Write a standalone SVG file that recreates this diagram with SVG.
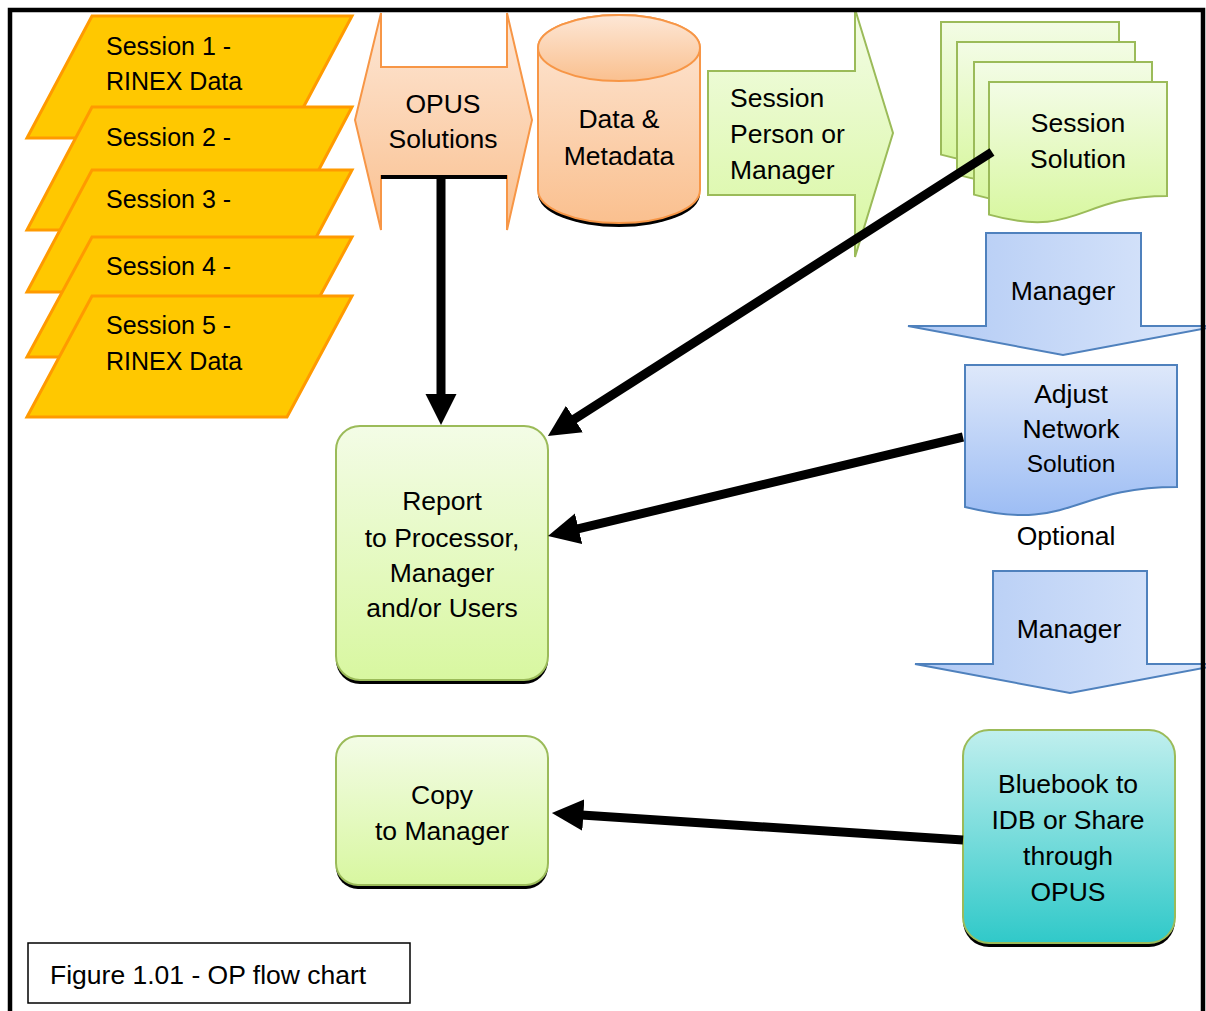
<svg xmlns="http://www.w3.org/2000/svg" width="1206" height="1011" viewBox="0 0 1206 1011">
<defs>
<linearGradient id="gOr" x1="0" y1="0" x2="0" y2="1"><stop offset="0" stop-color="#FDE7D6"/><stop offset="1" stop-color="#FAC08F"/></linearGradient>
<linearGradient id="gGr" x1="0" y1="0" x2="0" y2="1"><stop offset="0" stop-color="#F3FCE6"/><stop offset="1" stop-color="#D8F7A0"/></linearGradient>
<linearGradient id="gBlH" x1="0" y1="0" x2="1" y2="0"><stop offset="0" stop-color="#B0C9F4"/><stop offset="1" stop-color="#DDE8FB"/></linearGradient>
<linearGradient id="gBlV" x1="0" y1="0" x2="0" y2="1"><stop offset="0" stop-color="#DEE8FA"/><stop offset="1" stop-color="#9DBDF4"/></linearGradient>
<linearGradient id="gTe" x1="0" y1="0" x2="0" y2="1"><stop offset="0" stop-color="#C0EFEE"/><stop offset="1" stop-color="#30C9C9"/></linearGradient>
<marker id="ah" viewBox="0 0 10 10" markerUnits="strokeWidth" markerWidth="3.5" markerHeight="3.6" refX="3" refY="5" orient="auto"><path d="M0,0 L10,5 L0,10 Z" fill="#000"/></marker>
</defs>
<style>
text{font-family:"Liberation Sans",Arial,sans-serif;font-size:26.5px;fill:#000}
.s{font-size:25px}
.c{text-anchor:middle}
.par{fill:#FFC800;stroke:#FF9A00;stroke-width:3;stroke-linejoin:miter}
.or{fill:url(#gOr);stroke:#F79646;stroke-width:2}
.gr{fill:url(#gGr);stroke:#9BBB59;stroke-width:2}
.blh{fill:url(#gBlH);stroke:#4F81BD;stroke-width:2}
.blv{fill:url(#gBlV);stroke:#4F81BD;stroke-width:2}
.te{fill:url(#gTe);stroke:#9BBB59;stroke-width:2}
.sh{fill:#000}
.con{stroke:#000;stroke-width:9;fill:none;marker-end:url(#ah)}
</style>
<rect width="1206" height="1011" fill="#fff"/>

<g id="session1"><path class="par" d="M92,16 H352 L287,138 H27 Z"/><text class="s" x="106" y="55">Session 1 -</text><text class="s" x="106" y="90">RINEX Data</text></g>
<g id="session2"><path class="par" d="M92,107 H352 L287,230 H27 Z"/><text class="s" x="106" y="146">Session 2 -</text></g>
<g id="session3"><path class="par" d="M92,170 H352 L287,292 H27 Z"/><text class="s" x="106" y="208">Session 3 -</text></g>
<g id="session4"><path class="par" d="M92,237 H352 L287,357 H27 Z"/><text class="s" x="106" y="275">Session 4 -</text></g>
<g id="session5"><path class="par" d="M92,296 H352 L287,417 H27 Z"/><text class="s" x="106" y="334">Session 5 -</text><text class="s" x="106" y="370">RINEX Data</text></g>

<g id="opus"><path class="or" d="M381,67 H507 V13 L532,120 L507,230 V176 H381 V230 L355,120 L381,13 Z"/><line x1="381" y1="177" x2="507" y2="177" stroke="#000" stroke-width="4"/><text class="c" x="443" y="113">OPUS</text><text class="c" x="443" y="148">Solutions</text></g>

<g id="data"><path class="sh" d="M538,52 V194 A81,33 0 0 0 700,194 V52 Z"/><path class="or" d="M538,48 V190 A81,33 0 0 0 700,190 V48 A81,33 0 0 0 538,48 Z"/><ellipse class="or" cx="619" cy="48" rx="81" ry="33"/><text class="c" x="619" y="128">Data &amp;</text><text class="c" x="619" y="165">Metadata</text></g>

<g id="sessionperson"><path class="gr" d="M708,71 H855 V9 L893,133 L855,257 V195 H708 Z"/><text x="730" y="107">Session</text><text x="730" y="143">Person or</text><text x="730" y="179">Manager</text></g>

<g id="sessionsolution">
<path class="gr" d="M941,22 H1119 V135.9 C1030,135.9 1030,179.3 941,154.6 Z"/>
<path class="gr" d="M957,42 H1135 V155.9 C1046,155.9 1046,199.3 957,174.6 Z"/>
<path class="gr" d="M974,62 H1152 V175.9 C1063,175.9 1063,219.3 974,194.6 Z"/>
<path class="gr" d="M989,82 H1167 V195.9 C1078,195.9 1078,239.3 989,214.6 Z"/>
<text class="c" x="1078" y="132">Session</text><text class="c" x="1078" y="168">Solution</text></g>

<g id="manager1"><path class="blh" d="M986,233 H1141 V326 H1218 L1063,355 L908,326 H986 Z"/><text class="c" x="1063" y="300">Manager</text></g>

<g id="adjust"><path class="blv" d="M965,365 H1177 V486.9 C1071,486.9 1071,533.3 965,507 Z"/><text class="c" x="1071" y="403">Adjust</text><text class="c" x="1071" y="438">Network</text><text class="c" x="1071" y="472" style="font-size:24.5px">Solution</text></g>

<g id="optional"><text class="c" x="1066" y="545">Optional</text></g>

<g id="manager2"><path class="blh" d="M993,571 H1147 V664 H1225 L1070,693 L915,664 H993 Z"/><text class="c" x="1069" y="638">Manager</text></g>

<g id="report"><rect class="sh" x="336" y="430" width="212" height="254" rx="24"/><rect class="gr" x="336" y="426" width="212" height="254" rx="24"/><text class="c" x="442" y="510">Report</text><text class="c" x="442" y="547">to Processor,</text><text class="c" x="442" y="582">Manager</text><text class="c" x="442" y="617">and/or Users</text></g>

<g id="copy"><rect class="sh" x="336" y="740" width="212" height="149" rx="22"/><rect class="gr" x="336" y="736" width="212" height="149" rx="22"/><text class="c" x="442" y="804">Copy</text><text class="c" x="442" y="840">to Manager</text></g>

<g id="bluebook"><rect class="sh" x="963" y="734" width="212" height="213" rx="26"/><rect class="te" x="963" y="730" width="212" height="213" rx="26"/><text class="c" x="1068" y="793">Bluebook to</text><text class="c" x="1068" y="829">IDB or Share</text><text class="c" x="1068" y="865">through</text><text class="c" x="1068" y="901">OPUS</text></g>

<g id="connectors">
<line class="con" x1="441" y1="178" x2="441" y2="403"/>
<line class="con" x1="992" y1="152" x2="566.5" y2="424.1"/>
<line class="con" x1="963" y1="437" x2="569.4" y2="530.9"/>
<line class="con" x1="963" y1="840" x2="573.9" y2="814.4"/>
</g>

<g id="caption"><rect x="28" y="943" width="382" height="60" fill="#fff" stroke="#000" stroke-width="1.5"/><text x="50" y="984">Figure 1.01 - OP flow chart</text></g>

<path id="frame" d="M10,1020 V10 H1203 V1020" fill="none" stroke="#000" stroke-width="4.5"/>
</svg>
